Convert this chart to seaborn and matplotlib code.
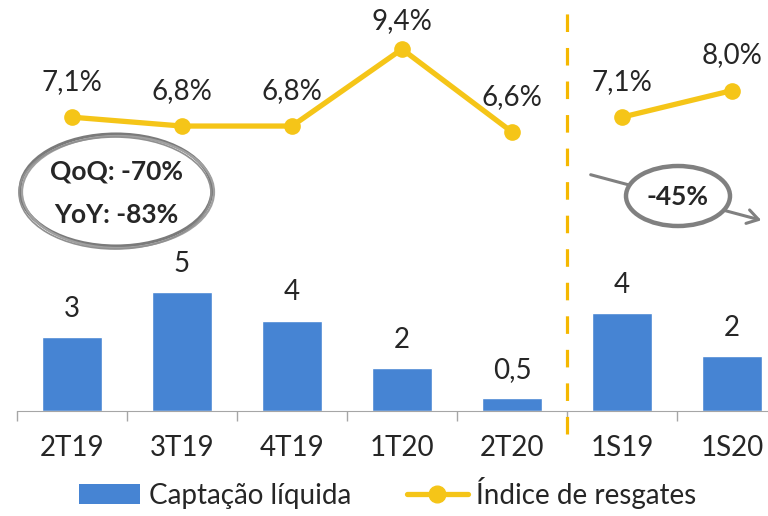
import numpy as np
import pandas as pd
import seaborn as sns
import matplotlib.pyplot as plt
from matplotlib.patches import Ellipse, Patch, FancyArrowPatch
from matplotlib.lines import Line2D

# data
periodos = ["2T19", "3T19", "4T19", "1T20", "2T20", "1S19", "1S20"]
captacao = [3.1, 5.0, 3.8, 1.8, 0.55, 4.1, 2.3]
captacao_rot = ["3", "5", "4", "2", "0,5", "4", "2"]
resgates = [7.1, 6.8, 6.8, 9.4, 6.6, 7.1, 8.0]
segmento = ["T", "T", "T", "T", "T", "S", "S"]

azul = "#4684D3"
amarelo = "#F5C518"
cinza = "#808080"

sns.set_style("white")
plt.rcParams["font.family"] = ["Lato", "DejaVu Sans"]

W, H = 768, 516
fig = plt.figure(figsize=(W / 100, H / 100), dpi=100)
ax = fig.add_axes([17 / W, 105 / H, 770 / W, 411 / H])

pos = np.arange(len(periodos))
df_bar = pd.DataFrame({"pos": pos, "captacao": captacao})
sns.barplot(data=df_bar, x="pos", y="captacao", color=azul, width=0.54,
            saturation=1, ax=ax, native_scale=True)
ax.bar_label(ax.containers[0], labels=captacao_rot, padding=11, fontsize=20)
ax.set_xlim(-0.5, 6.5)
ax.set_ylim(0, 411 / 23.8)

ax.set_xticks(pos)
ax.set_xticklabels(periodos, fontsize=20)
ax.set_xticks(np.arange(-0.5, len(periodos)), minor=True)
ax.tick_params(axis="x", which="major", length=0, pad=17)
ax.tick_params(axis="x", which="minor", length=7, width=1, color="#A6A6A6", bottom=True)
ax.set_yticks([])
ax.set_xlabel("")
ax.set_ylabel("")
for s in ["top", "left", "right"]:
    ax.spines[s].set_visible(False)
ax.spines["bottom"].set_color("#A6A6A6")

# line on twin axis
ax2 = ax.twinx()
df_line = pd.DataFrame({"pos": pos, "resgates": resgates, "seg": segmento})
sns.lineplot(data=df_line, x="pos", y="resgates", units="seg", estimator=None,
             color=amarelo, lw=3.8, marker="o", markersize=12, markeredgewidth=0,
             ax=ax2, legend=False)
ax2.set_ylim(-2.83, 11.06)
ax2.set_yticks([])
ax2.set_ylabel("")
for s in ax2.spines.values():
    s.set_visible(False)
for x, v in zip(pos, resgates):
    off = 11 if v == max(resgates) else 16
    ax2.annotate(f"{v:.1f}%".replace(".", ","), (x, v), xytext=(0, off),
                 textcoords="offset points", ha="center", va="bottom", fontsize=20)

# divisor
ax.axvline(4.5, ymin=-0.055, ymax=0.99, color="#F5B800", lw=2.3,
           dashes=(5.5, 5), clip_on=False)

def fxy(x, y):
    return x / W, 1 - y / H

# left annotation bubble
for dx, dy, c, lw in [(0, 0, "#7a7a7a", 2.2), (2, 2, "#a0a0a0", 1.6), (-1, 3, "#909090", 1.2)]:
    e = Ellipse(fxy(116 + dx, 190 + dy), 192 / W, 112 / H, transform=fig.transFigure,
                facecolor="none", edgecolor=c, lw=lw, zorder=5)
    fig.add_artist(e)
fig.text(*fxy(116, 172), "QoQ: -70%", ha="center", va="center", fontsize=19,
         fontweight="bold", zorder=6)
fig.text(*fxy(116, 215), "YoY: -83%", ha="center", va="center", fontsize=19,
         fontweight="bold", zorder=6)

# right arrow and bubble
arr = FancyArrowPatch(fxy(588, 174), fxy(764, 221), transform=fig.transFigure,
                      arrowstyle="->,head_length=8,head_width=5", color=cinza,
                      lw=2.2, zorder=5)
fig.add_artist(arr)
e2 = Ellipse(fxy(678, 196), 104 / W, 60 / H, transform=fig.transFigure,
             facecolor="white", edgecolor=cinza, lw=3.2, zorder=6)
fig.add_artist(e2)
fig.text(*fxy(678, 197), "-45%", ha="center", va="center", fontsize=19,
         fontweight="bold", zorder=7)

handles = [Patch(facecolor=azul, edgecolor="none"),
           Line2D([0], [0], color=amarelo, lw=3.8, marker="o", markersize=12)]
fig.legend(handles, ["Captação líquida", "Índice de resgates"], loc="center",
           bbox_to_anchor=(0.505, 23 / H), ncol=2, frameon=False, fontsize=20,
           handlelength=2.2, handleheight=0.75, handletextpad=0.3, columnspacing=2.0)

fig.savefig("out.png", dpi=100)
